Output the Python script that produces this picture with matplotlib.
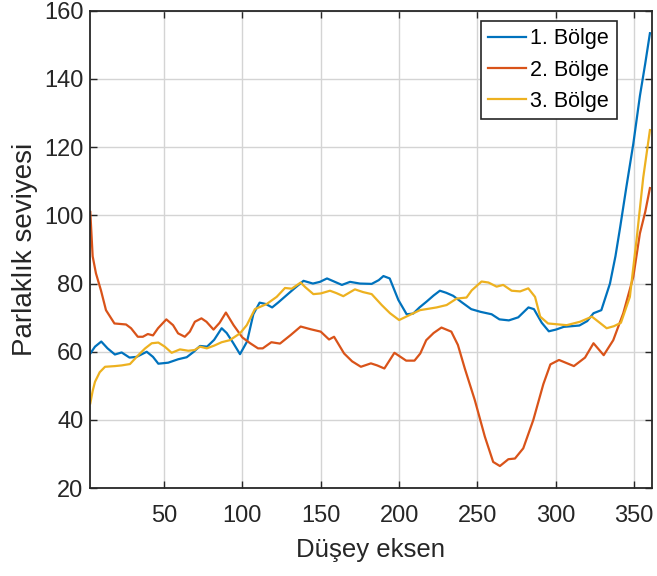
import matplotlib
matplotlib.use("Agg")
import matplotlib.pyplot as plt

plt.rcParams['font.family'] = ['Liberation Sans', 'DejaVu Sans']

labels = ["1. Bölge", "2. Bölge", "3. Bölge"]
colors = ["#0072BD", "#D95319", "#EDB120"]

blue_x = [3, 6, 10, 14, 18.7, 23, 28, 32.5, 39, 43, 46.4, 52.7, 59, 64.5, 69, 73, 77.5, 82,
          86.8, 90, 94, 98.5, 103, 107, 111, 115, 119, 123, 128, 133, 139, 145, 149.5, 154,
          159, 163.5, 168.7, 175, 182.5, 187, 190, 194, 199.5, 204.8, 209, 213, 217.5, 222,
          226, 230, 234.5, 240, 246, 252, 259, 264, 270, 276, 282.5, 286, 291, 295.5, 300,
          305, 315, 320, 324, 329, 334.5, 338, 341, 345, 349.4, 353.6, 357, 360]
blue_y = [59.5, 61.5, 63, 61, 59.2, 59.8, 58.3, 58.5, 60, 58.5, 56.5, 56.8, 57.8, 58.4, 60,
          61.7, 61.5, 63.5, 66.9, 65.5, 62.7, 59.3, 63, 71, 74.4, 74, 73, 74.5, 76.5, 78.5,
          80.8, 80, 80.5, 81.5, 80.5, 79.6, 80.5, 80, 79.9, 81, 82.2, 81.5, 75.2, 71, 71.2,
          73, 74.7, 76.5, 77.9, 77.3, 76.4, 74.5, 72.5, 71.7, 71, 69.5, 69.2, 70.1, 73, 72.5,
          68.5, 66, 66.5, 67.3, 67.7, 69, 71.3, 72.2, 80, 88, 96.5, 108.4, 121, 135, 144.5, 153.4]

orange_x = [3, 4.5, 6.6, 9.8, 13, 18.4, 25.8, 29, 33.3, 36.5, 39.7, 43, 46.2, 51.5, 55.8, 59,
            63.3, 66.5, 69.7, 73.9, 77.1, 81.6, 85.5, 89.5, 94.4, 100, 105, 110, 113, 118.5,
            124, 130.8, 137.2, 143.6, 150, 155.3, 158.5, 164.9, 170, 175.6, 182, 186, 190.6,
            197, 204.5, 209.8, 213.5, 217.3, 222, 227, 233.3, 237.5, 241.9, 248.3, 254.7, 260,
            264.3, 269.7, 273.9, 279.2, 285.6, 292, 296.5, 302, 311.5, 318.6, 324, 330.5,
            336.6, 343, 349.4, 353.6, 357, 360]
orange_y = [101, 88, 83, 78, 72.2, 68.3, 68, 66.9, 64.4, 64.4, 65.2, 64.8, 66.9, 69.5, 67.8,
            65.4, 64.4, 65.9, 68.8, 69.8, 68.8, 66.5, 68.5, 71.5, 67.8, 64.2, 62.5, 61, 61,
            62.8, 62.4, 64.9, 67.4, 66.6, 65.9, 63.6, 64.4, 59.5, 57.2, 55.6, 56.6, 56, 55.1,
            59.7, 57.4, 57.4, 59.5, 63.4, 65.5, 67.1, 65.9, 62, 55.1, 45.8, 35.1, 27.7, 26.5,
            28.5, 28.7, 31.7, 40, 50.5, 56.3, 57.6, 55.8, 58.3, 62.5, 59, 63.4, 71.3, 82,
            94.7, 101, 108]

yellow_x = [3, 4.5, 6, 9, 12.4, 18.7, 23, 28.3, 33.6, 38, 42.2, 46.4, 50.5, 54.9, 60.2, 65.5,
            69.5, 73, 77.3, 82, 86.8, 92, 98.5, 102.8, 108, 115.5, 121.9, 127.2, 131.5, 137.2,
            140, 145.3, 150, 155.9, 160, 164.4, 171.8, 177, 182.5, 188.9, 194.2, 200, 206.8,
            213.3, 223.9, 230.3, 236.7, 243, 246.3, 252.6, 257, 262.2, 266.4, 271.8, 277.2,
            282.4, 286.7, 290, 295, 306.9, 315.4, 323, 328, 332.4, 337, 341.5, 347.2, 351.5,
            355.7, 360]
yellow_y = [44.9, 48.5, 51.2, 54, 55.6, 55.8, 56, 56.4, 59, 61, 62.5, 62.7, 61.5, 59.7, 60.7,
            60.3, 60.5, 61.5, 61, 61.8, 62.8, 63.4, 65.4, 67.8, 72.5, 74, 76.1, 78.7, 78.5,
            80.3, 79, 76.9, 77.1, 77.9, 77.2, 76.3, 78.3, 77.5, 76.9, 73.7, 71.3, 69.3, 70.8,
            72.2, 73, 73.7, 75.6, 75.9, 78, 80.6, 80.3, 79.1, 79.6, 77.9, 77.7, 78.6, 76.1,
            70.3, 68.3, 67.8, 68.8, 70.3, 68.5, 66.9, 67.5, 68.5, 76.1, 93, 111, 125]

x_ticks = [50, 100, 150, 200, 250, 300, 350]
y_ticks = [20, 40, 60, 80, 100, 120, 140, 160]

fig = plt.figure(figsize=(6.57, 5.76), dpi=100)
ax = fig.add_axes([90.3 / 657, 1 - 488.2 / 576, (651.5 - 90.3) / 657, (488.2 - 10.7) / 576])

series = [(blue_x, blue_y), (orange_x, orange_y), (yellow_x, yellow_y)]
for (xs, ys), c, lab in zip(series, colors, labels):
    ax.plot(xs, ys, color=c, lw=1.6, label=lab)

ax.set_xlim(3, 361)
ax.set_ylim(20, 160)
ax.set_xticks(x_ticks)
ax.set_yticks(y_ticks)
ax.grid(True, color="#d4d4d4", lw=1.0)
ax.set_axisbelow(True)
ax.tick_params(direction="in", length=5, width=1, top=True, right=True,
               labelsize=17, colors="#262626", pad=5)
ax.tick_params(axis="x", pad=12)
for s in ax.spines.values():
    s.set_linewidth(1.3)
    s.set_color("#262626")

ax.set_xlabel("Düşey eksen", fontsize=18.5, color="#262626", labelpad=8)
ax.set_ylabel("Parlaklık seviyesi", fontsize=20, color="#262626", labelpad=4)

leg = ax.legend(loc="upper right", bbox_to_anchor=(0.938, 0.979), fontsize=15.5,
                frameon=True, fancybox=False, edgecolor="#262626", framealpha=1,
                handlelength=1.75, handletextpad=0.2, labelspacing=0.48,
                borderpad=0.35, borderaxespad=0)
leg.get_frame().set_linewidth(1.2)

fig.savefig("out.png", dpi=100)
